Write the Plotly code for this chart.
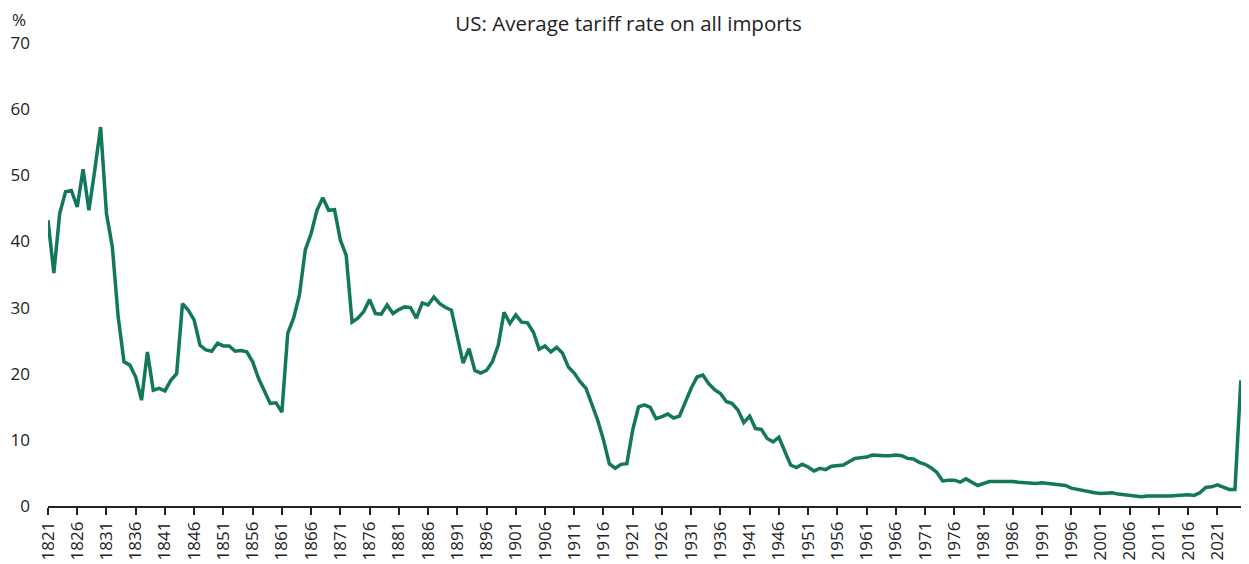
import plotly.graph_objects as go

years = list(range(1821, 2026))
tariff = [
    43.2, 35.2, 44.2, 47.5, 47.7, 45.2, 50.9, 44.7, 50.8, 57.3,  # 1821-1830
    44.2, 39.2, 28.6, 21.8, 21.3, 19.5, 16.0, 23.3, 17.5, 17.8,  # 1831-1840
    17.4, 19.0, 20.0, 30.6, 29.6, 28.1, 24.3, 23.6, 23.4, 24.6,  # 1841-1850
    24.2, 24.2, 23.4, 23.5, 23.3, 21.8, 19.3, 17.5, 15.5, 15.6,  # 1851-1860
    14.2, 26.1, 28.4, 31.9, 38.7, 41.2, 44.7, 46.6, 44.7, 44.8,  # 1861-1870
    40.2, 37.9, 27.8, 28.4, 29.4, 31.2, 29.1, 29.0, 30.4, 29.1,  # 1871-1880
    29.7, 30.1, 30.0, 28.4, 30.7, 30.4, 31.6, 30.6, 30.0, 29.6,  # 1881-1890
    25.6, 21.6, 23.8, 20.5, 20.1, 20.5, 21.8, 24.3, 29.3, 27.6,  # 1891-1900
    28.9, 27.8, 27.7, 26.3, 23.7, 24.2, 23.3, 24.0, 23.1, 21.0,  # 1901-1910
    20.1, 18.8, 17.8, 15.5, 13.0, 10.0, 6.4, 5.7, 6.3, 6.4,      # 1911-1920
    11.5, 15.0, 15.3, 14.9, 13.2, 13.5, 13.9, 13.3, 13.6, 15.7,  # 1921-1930
    17.8, 19.5, 19.8, 18.5, 17.6, 17.0, 15.8, 15.5, 14.5, 12.6,  # 1931-1940
    13.6, 11.7, 11.6, 10.2, 9.7, 10.4, 8.2, 6.2, 5.8, 6.3,       # 1941-1950
    5.9, 5.3, 5.7, 5.5, 6.0, 6.1, 6.2, 6.7, 7.2, 7.3,            # 1951-1960
    7.4, 7.7, 7.6, 7.6, 7.6, 7.7, 7.6, 7.2, 7.1, 6.6,            # 1961-1970
    6.3, 5.8, 5.1, 3.8, 3.9, 3.9, 3.6, 4.1, 3.6, 3.1,            # 1971-1980
    3.4, 3.7, 3.7, 3.7, 3.8, 3.7, 3.6, 3.5, 3.5, 3.4,            # 1981-1990
    3.5, 3.4, 3.3, 3.2, 3.1, 2.7, 2.5, 2.4, 2.2, 2.0,            # 1991-2000
    1.9, 1.9, 2.0, 1.8, 1.7, 1.6, 1.6, 1.4, 1.5, 1.5,            # 2001-2010
    1.4, 1.5, 1.5, 1.6, 1.7, 1.7, 1.6, 2.0, 2.8, 2.9,            # 2011-2020
    3.2, 2.9, 2.5, 2.5, 19.0,                                    # 2021-2025
]

tick_years = list(range(1821, 2022, 5))
tick_labels = [str(y) for y in tick_years]
y_ticks = [0, 10, 20, 30, 40, 50, 60, 70]

FONT = "Open Sans"
TEXT = "#222222"
LINE = "#13785b"

fig = go.Figure()
fig.add_trace(go.Scatter(
    x=years, y=tariff, mode="lines",
    line=dict(color=LINE, width=3.5),
    hoverinfo="x+y", showlegend=False, cliponaxis=False,
))

# page body has an 8px margin; figure sized so that it fills the 1249x564 window
fig.update_layout(
    width=1241, height=556,
    margin=dict(l=40, r=0, t=35, b=58),
    paper_bgcolor="white", plot_bgcolor="white",
    font=dict(family=FONT, size=16, color=TEXT),
    title=dict(text="US: Average tariff rate on all imports",
               x=0.5, xref="container", xanchor="center",
               y=0.971, yref="container", yanchor="middle",
               font=dict(family=FONT, size=20.5, color=TEXT)),
    xaxis=dict(
        range=[1821, 2026.4], tickmode="array", tickvals=tick_years,
        ticktext=tick_labels, tickangle=-90, showgrid=False, zeroline=False,
        showline=True, linecolor="#222222", linewidth=1.5,
        ticks="outside", ticklen=7, tickwidth=1.5, tickcolor="#222222",
        tickfont=dict(family=FONT, size=17, color=TEXT), automargin=False,
    ),
    yaxis=dict(
        range=[0, 70], tickmode="array", tickvals=y_ticks,
        showgrid=False, zeroline=False, showline=False,
        ticklabelstandoff=17,
        tickfont=dict(family=FONT, size=17, color=TEXT), automargin=False,
    ),
    annotations=[dict(text="%", xref="paper", yref="paper", x=-0.024, y=1.05,
                      xanchor="center", yanchor="middle", showarrow=False,
                      font=dict(family=FONT, size=17, color=TEXT))],
)

fig.write_html("out.html")
